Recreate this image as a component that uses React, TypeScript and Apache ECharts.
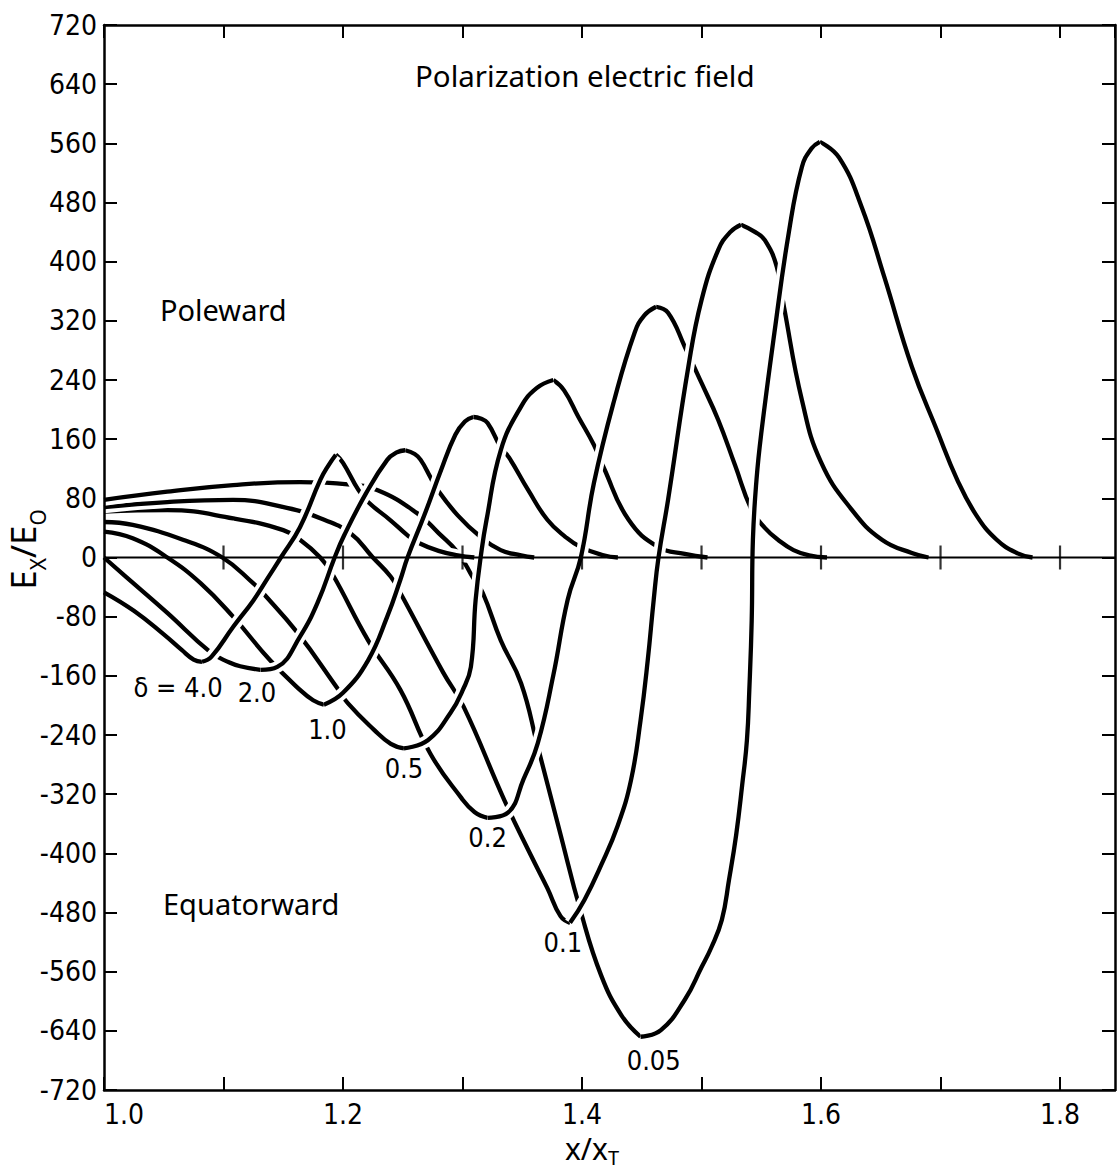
import React, { useEffect, useRef } from "react";
import * as echarts from "echarts";

// ---------- axes ----------
const X_MIN = 1.0;
const X_MAX = 1.846;
const X_STEP = 0.1;
const Y_MIN = -720;
const Y_MAX = 720;
const Y_STEP = 80;
const xTickLabels = ["1.0", "1.2", "1.4", "1.6", "1.8"];

// ---------- curves (x/xT, Ex/E0) ----------
const d40 = [
  [1.0, -47], [1.025, -72], [1.05, -104], [1.065, -125], [1.075, -138], [1.082, -141],
  [1.09, -134], [1.108, -94], [1.125, -58], [1.137, -28], [1.148, 0], [1.164, 41], [1.181, 105], [1.188, 125], [1.194, 139],
  [1.2, 128], [1.213, 91], [1.221, 75], [1.24, 50], [1.254, 30], [1.263, 20], [1.28, 9], [1.296, 3], [1.31, 0],
];
const d20 = [
  [1.0, 0], [1.024, -34], [1.053, -75], [1.089, -128], [1.105, -142], [1.114, -147], [1.131, -152],
  [1.145, -148], [1.164, -107], [1.179, -60], [1.193, 0], [1.201, 30], [1.219, 86], [1.237, 132], [1.245, 142], [1.252, 145],
  [1.26, 140], [1.265, 132], [1.273, 109], [1.278, 94], [1.296, 57], [1.315, 28], [1.332, 10], [1.349, 3], [1.36, 0],
];
const d10 = [
  [1.0, 35], [1.024, 26], [1.053, 0], [1.081, -35], [1.108, -80], [1.139, -139], [1.164, -179], [1.175, -193], [1.184, -199],
  [1.2, -183], [1.221, -139], [1.237, -80], [1.248, -30], [1.254, 0], [1.268, 57], [1.282, 118], [1.294, 166], [1.302, 184], [1.309, 190],
  [1.315, 188], [1.321, 182], [1.332, 149], [1.339, 135], [1.355, 91], [1.371, 51], [1.386, 28], [1.399, 14], [1.418, 3], [1.43, 0],
];
const d05 = [
  [1.0, 48], [1.024, 44], [1.066, 24], [1.099, 0], [1.125, -35], [1.133, -48], [1.162, -102], [1.195, -176], [1.204, -197], [1.226, -233], [1.24, -252], [1.251, -258],
  [1.271, -247], [1.29, -210], [1.3, -180], [1.307, -148], [1.311, -57], [1.316, 10], [1.32, 50], [1.332, 145], [1.349, 204], [1.362, 229], [1.376, 240],
  [1.385, 226], [1.397, 190], [1.41, 152], [1.418, 122], [1.439, 51], [1.464, 14], [1.486, 5], [1.505, 0],
];
const d02 = [
  [1.0, 62], [1.053, 64], [1.108, 53], [1.15, 37], [1.164, 24], [1.181, 0], [1.191, -22], [1.221, -112], [1.248, -179], [1.273, -265], [1.299, -325], [1.31, -344], [1.321, -352],
  [1.338, -345], [1.351, -300], [1.363, -251], [1.376, -159], [1.388, -57], [1.399, 0], [1.41, 101], [1.427, 213], [1.444, 304], [1.452, 327], [1.462, 339],
  [1.472, 331], [1.486, 285], [1.5, 236], [1.514, 186], [1.528, 125], [1.542, 64], [1.553, 40], [1.564, 24], [1.577, 10], [1.59, 3], [1.605, 0],
];
const d01 = [
  [1.0, 68], [1.053, 75], [1.108, 78], [1.153, 67], [1.181, 53], [1.206, 33], [1.225, 0], [1.24, -26], [1.248, -48], [1.284, -156], [1.301, -202], [1.335, -328], [1.357, -402], [1.371, -447], [1.382, -485], [1.39, -494],
  [1.402, -463], [1.416, -416], [1.43, -362], [1.441, -301], [1.449, -220], [1.455, -139], [1.46, -57], [1.464, 0], [1.472, 78], [1.489, 258], [1.5, 348], [1.514, 416], [1.524, 440], [1.533, 450],
  [1.545, 440], [1.553, 429], [1.563, 393], [1.569, 339], [1.584, 213], [1.6, 129], [1.626, 64], [1.651, 24], [1.676, 6], [1.69, 0],
];
const d005 = [
  [1.0, 78], [1.053, 89], [1.108, 98], [1.164, 102], [1.204, 99], [1.229, 91], [1.262, 60], [1.28, 33], [1.296, 7], [1.309, -28], [1.317, -48], [1.332, -112], [1.349, -170], [1.363, -256], [1.381, -368], [1.399, -479], [1.416, -565], [1.433, -619], [1.449, -648],
  [1.466, -639], [1.486, -598], [1.5, -554], [1.508, -528], [1.517, -490], [1.523, -436], [1.529, -375], [1.534, -308], [1.538, -247], [1.54, -179], [1.542, -85], [1.543, 24], [1.546, 105], [1.55, 168], [1.561, 304], [1.573, 439], [1.584, 528], [1.592, 553], [1.599, 562],
  [1.615, 541], [1.634, 474], [1.653, 379], [1.676, 258], [1.697, 172], [1.714, 105], [1.73, 57], [1.747, 24], [1.764, 6], [1.777, 0],
];
const curves = [d40, d20, d10, d05, d02, d01, d005];

// ---------- curve labels ----------
const labelTexts = ["δ = 4.0", "2.0", "1.0", "0.5", "0.2", "0.1", "0.05"];
const labelX = [1.062, 1.128, 1.187, 1.251, 1.321, 1.384, 1.46];
const labelY = [-176, -183, -233, -285, -379, -520, -680];

// ---------- zero line ----------
const zeroLineX = [1.0, 1.846];
const zeroTickX = [1.1, 1.2, 1.3, 1.4, 1.5, 1.6, 1.7, 1.8];

const TICK_FONT = "'DejaVu Sans Condensed','Liberation Sans Narrow',sans-serif";
const TEXT_FONT = "'Noto Sans','DejaVu Sans',sans-serif";

function splitCurve(pts: number[][]) {
  let iMin = 0;
  for (let i = 1; i < pts.length; i++) if (pts[i][1] < pts[iMin][1]) iMin = i;
  let iMax = iMin;
  for (let i = iMin; i < pts.length; i++) if (pts[i][1] > pts[iMax][1]) iMax = i;
  return {
    fall: pts.slice(0, iMin + 1),
    rise: pts.slice(iMin, iMax + 1),
    decay: pts.slice(iMax),
  };
}

function lineSeries(data: number[][], color: string, width: number, z: number) {
  return {
    type: "line",
    data,
    xAxisIndex: 0,
    yAxisIndex: 0,
    symbol: "none",
    showSymbol: false,
    smooth: 0.45,
    silent: true,
    clip: true,
    z,
    lineStyle: { color, width, cap: "butt", join: "round" },
  };
}

function buildOption() {
  const parts = curves.map(splitCurve);
  const series: any[] = [];
  parts.forEach((p) => {
    series.push(lineSeries(p.fall, "#ffffff", 12, 2));
    series.push(lineSeries(p.fall, "#000000", 4.3, 2));
  });
  parts.forEach((p) => {
    series.push(lineSeries(p.decay, "#ffffff", 12, 2));
    series.push(lineSeries(p.decay, "#000000", 4.3, 2));
  });
  parts.forEach((p) => {
    series.push(lineSeries(p.rise, "#ffffff", 12, 3));
    series.push(lineSeries(p.rise, "#000000", 4.3, 3));
  });
  series.push({
    type: "line",
    data: zeroLineX.map((x) => [x, 0]),
    symbol: "none",
    silent: true,
    z: 6,
    lineStyle: { color: "#000", width: 2.2 },
  });
  series.push({
    type: "scatter",
    data: zeroTickX.map((x) => [x, 0]),
    symbol: "rect",
    symbolSize: [2.2, 24],
    itemStyle: { color: "#000" },
    silent: true,
    z: 6,
  });
  series.push({
    type: "scatter",
    data: labelTexts.map((t, i) => ({ name: t, value: [labelX[i], labelY[i]] })),
    symbolSize: 0.5,
    itemStyle: { color: "#ffffff" },
    silent: true,
    z: 10,
    label: {
      show: true,
      position: "inside",
      formatter: "{b}",
      fontSize: 27,
      fontFamily: TICK_FONT,
      color: "#000000",
      textBorderWidth: 0,
      opacity: 1,
    },
  });

  const axisLine = { onZero: false, lineStyle: { color: "#000", width: 2.5 } };
  const axisTick = { inside: true, length: 13, lineStyle: { color: "#000", width: 2 } };

  return {
    animation: false,
    backgroundColor: "#fff",
    grid: { left: 104, top: 25, width: 1011, height: 1065, containLabel: false, outerBoundsMode: "none" },
    xAxis: [
      {
        type: "value",
        position: "bottom",
        min: X_MIN,
        max: X_MAX,
        interval: X_STEP,
        z: 10,
        axisLine,
        axisTick,
        splitLine: { show: false },
        axisLabel: {
          margin: 11,
          fontSize: 28,
          lineHeight: 26,
          fontFamily: TICK_FONT,
          color: "#000",
          alignMinLabel: "left",
          showMaxLabel: false,
          formatter: (v: number) => {
            const s = v.toFixed(1);
            return xTickLabels.includes(s) && Math.abs(v - parseFloat(s)) < 1e-6 ? s : "";
          },
        },
      },
      {
        type: "value",
        position: "top",
        min: X_MIN,
        max: X_MAX,
        interval: X_STEP,
        z: 10,
        axisLine,
        axisTick,
        splitLine: { show: false },
        axisLabel: { show: false },
      },
    ],
    yAxis: [
      {
        type: "value",
        position: "left",
        min: Y_MIN,
        max: Y_MAX,
        interval: Y_STEP,
        z: 10,
        axisLine,
        axisTick,
        splitLine: { show: false },
        axisLabel: {
          margin: 7,
          fontSize: 28,
          fontFamily: TICK_FONT,
          color: "#000",
          formatter: (v: number) => String(v),
        },
        name: "{a|E}{b|X}{a|/E}{b|O}",
        nameLocation: "middle",
        nameRotate: 90,
        nameGap: 56,
        nameMoveOverlap: false,
        nameTextStyle: {
          padding: [0, 0, 0, 16],
          rich: {
            a: { fontSize: 35, lineHeight: 36, fontFamily: TEXT_FONT, color: "#000", padding: [0, 0, 8, 0], verticalAlign: "bottom" },
            b: { fontSize: 21, lineHeight: 22, fontFamily: TEXT_FONT, color: "#000", verticalAlign: "bottom" },
          },
        },
      },
      {
        type: "value",
        position: "right",
        min: Y_MIN,
        max: Y_MAX,
        interval: Y_STEP,
        z: 10,
        axisLine,
        axisTick,
        splitLine: { show: false },
        axisLabel: { show: false },
      },
    ],
    graphic: [
      {
        type: "text",
        x: 415,
        y: 75,
        z: 10,
        style: { text: "Polarization electric field", font: `29.5px ${TEXT_FONT}`, fill: "#000", align: "left", verticalAlign: "middle" },
      },
      {
        type: "text",
        x: 160,
        y: 309,
        z: 10,
        style: { text: "Poleward", font: `29px ${TEXT_FONT}`, fill: "#000", align: "left", verticalAlign: "middle" },
      },
      {
        type: "text",
        x: 163,
        y: 903,
        z: 10,
        style: { text: "Equatorward", font: `29px ${TEXT_FONT}`, fill: "#000", align: "left", verticalAlign: "middle" },
      },
      {
        type: "text",
        x: 592,
        y: 1155,
        z: 10,
        style: {
          text: "{a|x/x}{b|T}",
          align: "center",
          verticalAlign: "middle",
          rich: {
            a: { fontSize: 30, lineHeight: 24, fontFamily: TEXT_FONT, fill: "#000", padding: [0, 0, 4, 0], verticalAlign: "bottom" },
            b: { fontSize: 20, lineHeight: 16, fontFamily: TEXT_FONT, fill: "#000", verticalAlign: "bottom" },
          },
        },
      },
    ],
    series,
  };
}

export default function App() {
  const ref = useRef<HTMLDivElement>(null);
  useEffect(() => {
    if (!ref.current) return;
    const chart = echarts.init(ref.current, undefined, { renderer: "svg" });
    chart.setOption(buildOption() as any);
    return () => chart.dispose();
  }, []);
  return (
    <div
      ref={ref}
      style={{ position: "absolute", left: 0, top: 0, width: 1118, height: 1171, background: "#fff" }}
    />
  );
}
